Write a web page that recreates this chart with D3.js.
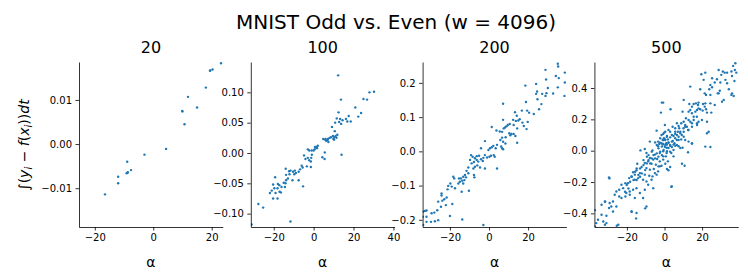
<!DOCTYPE html>
<html>
<head>
  <meta charset="UTF-8">
  <title>MNIST Odd vs. Even</title>
  <style>
    body { margin: 0; background: #fff; }
    svg text { font-family: "DejaVu Sans", sans-serif; fill: #000; }
  </style>
</head>
<body>
  <svg width="748" height="278"></svg>

  <script src="https://d3js.org/d3.v7.min.js"></script>
  <script>
    // Panel titles (number of points)
    const panelTitles = ['20', '100', '200', '500'];

    // Tick values for each panel
    const xTicks = [[-20, 0, 20], [-20, 0, 20, 40], [-20, 0, 20], [-20, 0, 20]];
    const yTicks = [
      [-0.01, 0.00, 0.01],
      [-0.10, -0.05, 0.00, 0.05, 0.10],
      [-0.2, -0.1, 0.0, 0.1, 0.2],
      [-0.4, -0.2, 0.0, 0.2, 0.4]
    ];
    const yTickFormats = ['.2f', '.2f', '.1f', '.1f'];

    // Axis limits
    const xLimits = [[-25.4, 23.8], [-31.5, 40.6], [-34, 39.6], [-37.3, 39.2]];
    const yLimits = [[-0.0188, 0.0186], [-0.122, 0.150], [-0.221, 0.261], [-0.487, 0.566]];

    // Points: [alpha, integral of residual]
    const points20 = [
      [-16.5, -0.0114], [-12.0, -0.0074], [-12.0, -0.0089], [-8.9, -0.0040], [-9.1, -0.0066],
      [-8.7, -0.0064], [-7.6, -0.0059], [-3.0, -0.0024], [4.4, -0.0011], [9.9, 0.0075],
      [10.7, 0.0045], [11.9, 0.0107], [15.0, 0.0083], [18.0, 0.0128], [19.4, 0.0166],
      [20.3, 0.0169], [23.2, 0.0183], [19.5, 0.0167], [-8.8, -0.0065], [10.0, 0.0074]
    ];

    const points100 = [
      [12.3, 0.128], [28.0, 0.100], [30.3, 0.101], [25.0, 0.089], [26.8, 0.088],
      [13.7, 0.088], [20.9, 0.075], [23.8, 0.066], [22.4, 0.060], [12.5, 0.067],
      [17.6, 0.061], [16.2, 0.056], [16.9, 0.052], [18.6, 0.052], [11.6, 0.057],
      [10.8, 0.050], [12.8, 0.051], [13.8, 0.048], [9.2, 0.043], [10.6, 0.036],
      [11.9, 0.030], [11.1, 0.028], [10.4, 0.026], [9.9, 0.023], [8.7, 0.026],
      [8.0, 0.025], [7.2, 0.023], [6.3, 0.020], [4.8, 0.023], [7.4, 0.018],
      [6.0, 0.023], [14.0, -0.003], [5.6, 0.001], [4.4, -0.007], [5.5, -0.010],
      [2.1, 0.012], [1.4, 0.010], [0.7, 0.010], [1.7, 0.008], [0.5, 0.006],
      [-1.0, 0.004], [-2.2, 0.004], [-2.9, 0.006], [-0.9, -0.003], [-4.8, -0.004],
      [-2.9, -0.008], [-2.2, -0.012], [-1.4, -0.014], [-1.4, -0.023], [-3.4, -0.022],
      [-5.5, -0.024], [-6.8, -0.027], [-7.5, -0.031], [-9.4, -0.029], [-8.9, -0.033],
      [-9.7, -0.035], [-12.3, -0.030], [-12.1, -0.035], [-14.0, -0.026], [-13.8, -0.036],
      [-13.8, -0.045], [-10.6, -0.045], [-7.5, -0.045], [-5.3, -0.055], [-19.3, -0.040],
      [-20.3, -0.052], [-17.9, -0.051], [-17.2, -0.053], [-15.0, -0.049], [-14.1, -0.050],
      [-14.4, -0.056], [-18.1, -0.058], [-21.0, -0.062], [-21.9, -0.066], [-19.1, -0.066],
      [-17.1, -0.064], [-16.4, -0.065], [-20.3, -0.075], [-18.1, -0.075], [-27.7, -0.084],
      [-25.3, -0.090], [-11.6, -0.113], [-31.1, -0.118], [9.7, 0.028], [11.5, 0.025],
      [10.3, 0.022], [6.8, 0.021], [1.0, 0.009], [0.0, 0.004], [-1.2, -0.008],
      [-6.0, -0.021], [-11.6, -0.029], [-16.1, -0.056], [-12.9, -0.042], [13.3, 0.056],
      [14.5, 0.054], [5.8, 0.022], [-4.1, -0.010], [-19.7, -0.058], [-10.3, -0.031]
    ];

    const points200 = [
      [1.4, 0.071], [-2.1, 0.030], [-4.1, 0.009], [0.5, 0.009], [1.4, 0.012],
      [2.2, 0.016], [-0.3, 0.004], [-2.1, -0.011], [-1.0, -0.018], [0.2, -0.016],
      [1.0, -0.013], [-2.9, -0.019], [-5.1, -0.013], [-6.3, -0.014], [-7.2, -0.020],
      [-8.4, -0.016], [-9.2, -0.011], [-9.7, -0.025], [-8.9, -0.035], [-7.7, -0.031],
      [-6.3, -0.025], [-5.5, -0.030], [-4.1, -0.023], [-3.2, -0.028], [-2.1, -0.050],
      [-4.6, -0.047], [-6.0, -0.041], [-7.2, -0.045], [-8.0, -0.050], [-10.6, -0.047],
      [-11.5, -0.057], [-10.6, -0.064], [-7.7, -0.069], [-7.5, -0.076], [-12.3, -0.069],
      [-11.8, -0.076], [-13.2, -0.074], [-14.4, -0.079], [-15.4, -0.079], [-12.6, -0.084],
      [-13.7, -0.086], [-14.9, -0.089], [-13.2, -0.094], [-15.7, -0.094], [-18.3, -0.074],
      [-17.8, -0.079], [-19.8, -0.094], [-19.1, -0.103], [-20.9, -0.101], [-21.2, -0.111],
      [-17.4, -0.108], [-14.0, -0.118], [-10.3, -0.115], [-24.3, -0.123], [-24.3, -0.129],
      [-21.7, -0.135], [-22.9, -0.140], [-23.9, -0.144], [-26.0, -0.147], [-22.1, -0.157],
      [-18.8, -0.154], [-24.6, -0.162], [-26.5, -0.172], [-28.0, -0.179], [-29.4, -0.181],
      [-32.0, -0.173], [-32.8, -0.174], [-33.7, -0.176], [-33.9, -0.191], [-32.0, -0.191],
      [-26.0, -0.201], [-27.7, -0.204], [-29.7, -0.206], [-32.0, -0.206], [-20.0, -0.189],
      [-13.7, -0.199], [-2.9, -0.215], [-33.7, -0.215],
      [35.2, 0.256], [28.9, 0.238], [34.2, 0.220], [35.7, 0.214], [29.2, 0.210],
      [38.8, 0.230], [18.6, 0.192], [24.1, 0.197], [30.1, 0.185], [35.2, 0.187],
      [24.6, 0.175], [24.1, 0.168], [27.2, 0.168], [28.9, 0.162], [29.4, 0.170],
      [32.8, 0.169], [38.6, 0.162], [24.8, 0.152], [26.8, 0.138], [18.9, 0.144],
      [7.2, 0.139], [25.6, 0.123], [16.8, 0.119], [19.5, 0.119], [20.5, 0.113],
      [22.9, 0.109], [13.3, 0.114], [14.2, 0.104], [12.3, 0.092], [15.7, 0.094],
      [13.7, 0.089], [15.0, 0.090], [7.2, 0.092], [10.6, 0.080], [12.6, 0.077],
      [17.1, 0.084], [19.8, 0.086], [17.8, 0.074], [19.2, 0.065], [8.9, 0.073],
      [8.2, 0.070], [7.5, 0.067], [9.6, 0.077], [14.4, 0.067], [3.8, 0.061],
      [5.5, 0.058], [6.7, 0.057], [10.4, 0.053], [11.5, 0.051], [10.9, 0.047],
      [12.6, 0.051], [13.5, 0.045], [8.5, 0.041], [6.7, 0.040], [5.8, 0.033],
      [7.2, 0.028], [8.4, 0.023], [14.4, 0.025], [4.1, 0.019], [6.2, 0.014],
      [7.2, 0.006], [6.7, 0.009], [3.4, 0.009], [2.4, -0.011], [2.9, -0.016],
      [4.1, -0.050], [38.8, 0.201], [35.4, 0.248]
    ];

    const points500 = [
      [-0.7, 0.307], [-1.9, 0.243], [0.2, 0.164], [-4.2, 0.128], [-0.2, 0.115],
      [-0.7, 0.107], [-1.6, 0.100], [-0.3, 0.079], [-1.0, 0.068], [0.2, 0.072],
      [-7.8, 0.058], [-3.4, 0.058], [-2.5, 0.051], [-1.6, 0.047], [-0.7, 0.043],
      [-2.8, 0.043],
      [37.7, 0.558], [36.5, 0.541], [37.4, 0.515], [35.6, 0.505], [38.2, 0.498],
      [28.8, 0.515], [31.0, 0.505], [32.0, 0.498], [30.2, 0.484], [33.3, 0.498],
      [21.7, 0.498], [19.6, 0.488], [25.3, 0.462], [27.9, 0.456], [26.7, 0.435],
      [32.4, 0.452], [33.3, 0.430], [29.7, 0.435], [34.2, 0.392], [35.9, 0.366],
      [35.6, 0.356], [36.8, 0.349], [31.5, 0.324], [30.6, 0.313], [28.8, 0.366],
      [29.4, 0.383], [28.3, 0.366], [24.4, 0.420], [25.3, 0.405], [23.8, 0.392],
      [19.0, 0.392], [13.7, 0.409], [21.4, 0.366], [22.1, 0.356], [24.4, 0.356],
      [26.7, 0.292], [24.4, 0.302], [21.7, 0.302], [20.5, 0.298], [18.1, 0.307],
      [17.8, 0.292], [16.7, 0.302], [15.5, 0.298], [14.6, 0.281], [13.2, 0.298],
      [10.2, 0.324], [9.6, 0.249], [12.8, 0.249], [3.2, 0.264], [19.0, 0.264],
      [21.4, 0.281], [22.1, 0.264], [24.9, 0.243], [22.6, 0.243], [20.3, 0.256],
      [17.3, 0.260], [16.4, 0.249], [14.6, 0.239], [13.7, 0.260], [15.5, 0.217],
      [18.1, 0.185], [19.9, 0.196], [22.6, 0.185], [23.5, 0.121], [22.6, 0.111],
      [17.3, 0.175], [14.6, 0.175], [12.8, 0.196], [11.4, 0.207], [10.2, 0.185],
      [8.9, 0.175], [7.5, 0.158], [6.6, 0.175], [5.7, 0.143], [4.3, 0.153],
      [3.0, 0.121], [2.1, 0.132], [11.0, 0.153], [12.5, 0.132], [10.2, 0.121],
      [8.4, 0.111], [7.1, 0.121], [5.7, 0.107], [4.8, 0.094], [7.5, 0.089],
      [8.9, 0.072], [6.6, 0.068], [3.0, 0.085], [1.8, 0.072], [1.3, 0.094],
      [3.9, 0.058], [2.1, 0.051], [5.3, 0.047], [0.9, 0.047], [12.8, 0.058],
      [14.6, 0.047], [11.0, 0.068], [7.8, 0.143], [0.4, 0.121], [0.4, 0.068],
      [10.2, 0.089], [17.3, 0.164], [18.1, 0.270], [35.9, 0.477], [37.2, 0.445],
      [20.8, 0.452],
      [-10.5, 0.011], [-12.8, 0.002], [-9.6, -0.015], [-6.4, 0.002], [-3.4, 0.028],
      [-1.0, 0.039], [0.2, 0.024], [-5.1, -0.025], [-2.5, -0.015], [-0.7, -0.004],
      [1.1, -0.015], [-7.8, -0.047], [-6.0, -0.057], [-3.9, -0.053], [-2.5, -0.068],
      [-0.7, -0.057], [-8.7, -0.068], [-10.5, -0.079], [-6.9, -0.083], [-4.6, -0.089],
      [-3.2, -0.100], [-1.6, -0.096], [-14.5, -0.083], [-12.2, -0.104], [-9.6, -0.111],
      [-7.8, -0.121], [-5.7, -0.117], [-3.4, -0.132], [-14.9, -0.125], [-16.7, -0.138],
      [-13.1, -0.143], [-10.5, -0.153], [-8.1, -0.160], [-6.4, -0.164], [-4.2, -0.153],
      [-15.8, -0.153], [-17.6, -0.164], [-18.8, -0.175], [-15.8, -0.185], [-14.0, -0.175],
      [-11.4, -0.185], [-9.6, -0.196], [-6.9, -0.185], [-6.0, -0.239], [-29.5, -0.170],
      [-20.8, -0.207], [-19.4, -0.207], [-22.0, -0.239], [-22.9, -0.217], [-24.1, -0.249],
      [-25.6, -0.260], [-26.5, -0.281], [-24.1, -0.292], [-22.9, -0.302], [-20.8, -0.292],
      [-20.3, -0.270], [-18.5, -0.260], [-16.7, -0.249], [-18.5, -0.281], [-14.9, -0.239],
      [-13.1, -0.270], [-15.8, -0.302], [-10.5, -0.249], [-11.4, -0.302], [-9.6, -0.356],
      [-14.9, -0.398], [-17.6, -0.388], [-27.4, -0.324], [-29.2, -0.334], [-28.3, -0.356],
      [-29.5, -0.366], [-31.7, -0.324], [-33.5, -0.345], [-25.6, -0.356], [-27.4, -0.388],
      [-30.9, -0.415], [-33.5, -0.409], [-32.6, -0.452], [-30.9, -0.462], [-35.4, -0.441],
      [-36.3, -0.462], [-31.7, -0.473], [-24.6, -0.473], [-37.0, -0.484], [-2.5, -0.100],
      [-5.1, -0.143], [-8.7, -0.217], [-0.7, -0.036],
      [1.3, 0.039], [3.0, 0.032], [4.8, 0.039], [2.1, 0.017], [3.9, 0.024],
      [5.7, 0.032], [8.4, 0.017], [9.6, 0.019], [7.5, 0.028], [14.6, 0.045],
      [12.5, -0.010], [24.4, 0.024], [1.3, -0.004], [3.6, -0.015], [4.8, -0.036],
      [0.7, -0.036], [1.8, -0.068], [0.4, -0.083], [3.0, -0.104], [1.3, -0.117],
      [2.1, -0.125], [9.3, -0.083], [10.7, -0.096], [3.9, -0.228],
      [-2.3, 0.079], [-0.5, 0.068], [1.2, 0.089], [2.1, 0.053], [0.4, 0.036],
      [-1.4, 0.026], [-3.2, 0.015], [-4.1, 0.036], [-5.0, 0.053], [-2.3, -0.006],
      [-0.5, 0.004], [1.2, 0.019], [3.0, 0.036], [4.4, 0.062], [5.7, 0.079],
      [6.6, 0.100], [3.9, 0.100], [-4.1, -0.017], [-5.9, -0.028], [-6.8, -0.049],
      [-5.0, -0.049], [-3.2, -0.038], [-1.4, -0.028], [-8.5, -0.060], [-9.4, -0.081],
      [-7.6, -0.081], [-11.2, -0.092], [-13.0, -0.113], [-10.3, -0.124], [-12.1, -0.145],
      [-13.9, -0.155], [-15.6, -0.134], [-14.8, -0.113], [-17.4, -0.166], [-16.5, -0.187],
      [-18.3, -0.198], [-20.1, -0.219], [-19.2, -0.241], [-21.0, -0.262], [-9.4, -0.038],
      [-11.2, -0.060], [8.4, 0.121], [10.1, 0.143], [11.0, 0.164], [11.9, 0.153],
      [13.7, 0.185], [12.8, 0.132], [9.2, 0.100], [7.5, 0.068], [5.7, 0.121],
      [15.5, 0.196], [17.2, 0.217], [14.6, 0.153], [4.8, 0.004], [3.0, -0.006],
      [6.6, 0.036], [-6.8, -0.006], [-8.5, -0.028], [-14.8, -0.187], [-13.0, -0.166],
      [-29.3, -0.177], [-31.6, -0.326], [-37.0, -0.379], [-25.4, -0.479], [-17.4, -0.390],
      [-10.3, -0.368], [-15.1, -0.432], [3.6, -0.230], [-1.4, 0.307], [21.7, 0.026]
    ];

    const allPoints = [points20, points100, points200, points500];

    const svg = d3.select('svg');

    // Layout of the four panels
    const panelLeft = 79;
    const panelStep = 171.8;
    const panelWidth = 143.8;
    const panelTop = 62;
    const panelBottom = 227;
    const dotColor = '#1f77b4';

    // Figure title
    svg.append('text')
      .attr('x', 396)
      .attr('y', 29)
      .attr('text-anchor', 'middle')
      .attr('font-size', '20px')
      .text('MNIST Odd vs. Even (w = 4096)');

    allPoints.forEach((pts, i) => {
      const left = panelLeft + i * panelStep;
      const g = svg.append('g').attr('transform', `translate(${left}, 0)`);

      const xScale = d3.scaleLinear().domain(xLimits[i]).range([0, panelWidth]);
      const yScale = d3.scaleLinear().domain(yLimits[i]).range([panelBottom, panelTop]);

      // Points (clipped to the axes box)
      g.append('clipPath').attr('id', `clip${i}`)
        .append('rect')
        .attr('x', 0).attr('y', panelTop)
        .attr('width', panelWidth).attr('height', panelBottom - panelTop);

      g.append('g')
        .attr('clip-path', `url(#clip${i})`)
        .selectAll('circle')
        .data(pts)
        .enter()
        .append('circle')
        .attr('cx', d => xScale(d[0]))
        .attr('cy', d => yScale(d[1]))
        .attr('r', 1.2)
        .attr('fill', dotColor);

      // Axes
      const xAxis = g.append('g')
        .attr('transform', `translate(0, ${panelBottom})`)
        .call(d3.axisBottom(xScale).tickValues(xTicks[i]).tickSize(3.5).tickPadding(3.5).tickSizeOuter(0));

      const yAxis = g.append('g')
        .call(d3.axisLeft(yScale).tickValues(yTicks[i]).tickFormat(d3.format(yTickFormats[i]))
          .tickSize(3.5).tickPadding(3.5).tickSizeOuter(0));

      [xAxis, yAxis].forEach(ax => {
        ax.selectAll('text').attr('font-size', '10px').attr('font-family', '"DejaVu Sans", sans-serif');
        ax.selectAll('line').attr('stroke', '#000').attr('stroke-width', 0.8);
        ax.select('.domain').attr('stroke', '#000').attr('stroke-width', 0.8);
      });

      // Panel title
      g.append('text')
        .attr('x', panelWidth / 2)
        .attr('y', 53)
        .attr('text-anchor', 'middle')
        .attr('font-size', '16px')
        .text(panelTitles[i]);

      // x-axis label
      g.append('text')
        .attr('x', panelWidth / 2)
        .attr('y', 267)
        .attr('text-anchor', 'middle')
        .attr('font-size', '14px')
        .text('α');
    });

    // y-axis label (mathtext style)
    const yLab = svg.append('text')
      .attr('transform', 'translate(29, 145) rotate(-90)')
      .attr('text-anchor', 'middle')
      .attr('font-size', '14px');
    yLab.append('tspan').text('∫(');
    yLab.append('tspan').attr('font-style', 'italic').text('y');
    yLab.append('tspan').attr('font-style', 'italic').attr('font-size', '10px').attr('dy', 3).text('i');
    yLab.append('tspan').attr('dy', -3).text(' − ');
    yLab.append('tspan').attr('font-style', 'italic').text('f');
    yLab.append('tspan').text('(');
    yLab.append('tspan').attr('font-style', 'italic').text('x');
    yLab.append('tspan').attr('font-style', 'italic').attr('font-size', '10px').attr('dy', 3).text('i');
    yLab.append('tspan').attr('dy', -3).text('))');
    yLab.append('tspan').attr('font-style', 'italic').text('dt');
  </script>
</body>
</html>
